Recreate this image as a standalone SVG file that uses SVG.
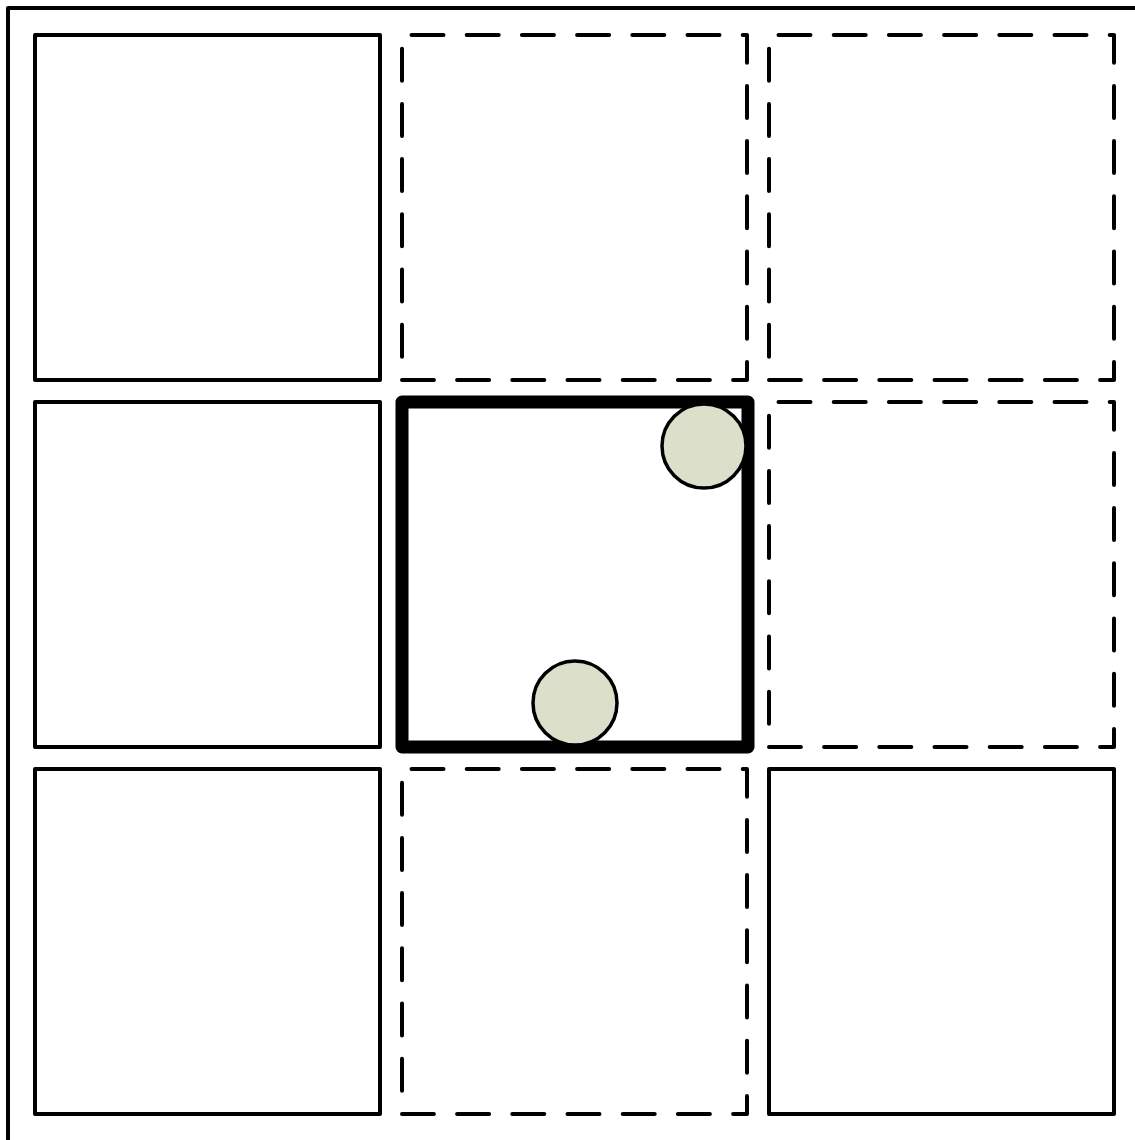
<svg xmlns="http://www.w3.org/2000/svg" width="1135" height="1140" viewBox="0 0 1135 1140">
  <style>
    .solid { fill: none; stroke: #000; stroke-width: 4; stroke-linejoin: round; }
    .dash { fill: none; stroke: #000; stroke-width: 4; stroke-linecap: round; stroke-linejoin: round; stroke-dasharray: 32 23.2; stroke-dashoffset: -9.5; }
    .thick { fill: none; stroke: #000; stroke-width: 13; stroke-linejoin: round; }
    .ball { fill: #dce0cb; stroke: #000; stroke-width: 3.5; }
  </style>
  <rect width="1135" height="1140" fill="#fff"/>
  <g id="frame">
    <rect x="8" y="8" width="1140" height="1140" class="solid"/>
  </g>
  <g id="cell-0-0"><path class="solid" d="M35,35 H380 V380 H35 Z"/></g>
  <g id="cell-0-1"><path class="dash" d="M402,35 H747 V380 H402 Z"/></g>
  <g id="cell-0-2"><path class="dash" d="M769,35 H1114 V380 H769 Z"/></g>
  <g id="cell-1-0"><path class="solid" d="M35,402 H380 V747 H35 Z"/></g>
  <g id="cell-1-1"><path class="thick" d="M402,402 H748 V747 H402 Z"/></g>
  <g id="cell-1-2"><path class="dash" d="M769,402 H1114 V747 H769 Z"/></g>
  <g id="cell-2-0"><path class="solid" d="M35,769 H380 V1114 H35 Z"/></g>
  <g id="cell-2-1"><path class="dash" d="M402,769 H747 V1114 H402 Z"/></g>
  <g id="cell-2-2"><path class="solid" d="M769,769 H1114 V1114 H769 Z"/></g>
  <g id="ball-top"><circle class="ball" cx="704" cy="446" r="42"/></g>
  <g id="ball-bottom"><circle class="ball" cx="575" cy="703" r="42"/></g>
  <g id="connectors"></g>
</svg>
